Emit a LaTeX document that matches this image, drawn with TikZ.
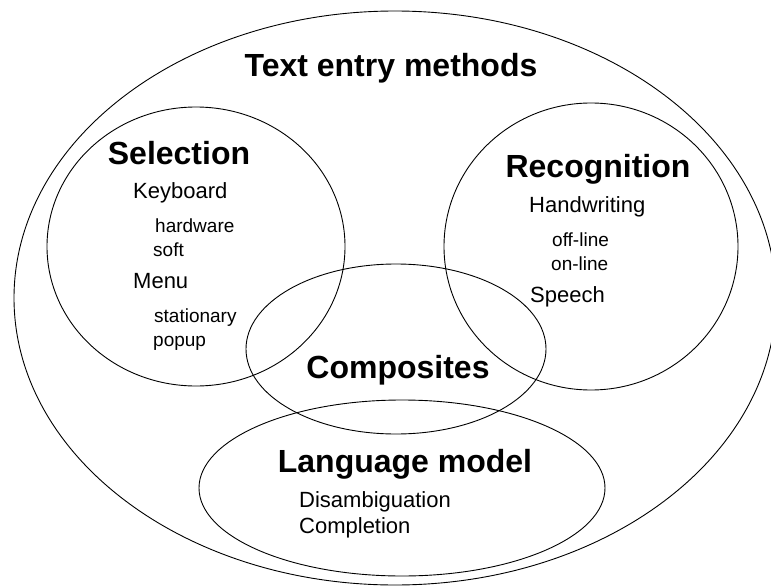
\documentclass[tikz,border=0pt]{standalone}
\usepackage{fontspec}
\setmainfont{Liberation Sans}
\usetikzlibrary{shapes.geometric}
\tikzset{
  set/.style={draw=black, line width=0.9pt, ellipse, inner sep=0pt},
  head/.style={anchor=base, inner sep=0pt, font=\bfseries\fontsize{32}{38}\selectfont},
  item/.style={anchor=base west, inner sep=0pt, font=\fontsize{22}{26}\selectfont},
  sub/.style={anchor=base west, inner sep=0pt, font=\fontsize{19}{23}\selectfont}
}
\begin{document}
\begin{tikzpicture}[x=1pt,y=-1pt]
\useasboundingbox (0,0) rectangle (771,586);
\clip (0,0) rectangle (771,586);
\fill[white] (0,0) rectangle (771,586);
% sets
\node[set, minimum width=762pt, minimum height=574pt] (outer) at (395,298) {};
\node[set, minimum width=298pt, minimum height=279pt] (sel) at (196,246.5) {};
\node[set, minimum width=294pt, minimum height=287pt] (rec) at (591,246.5) {};
\node[set, minimum width=300pt, minimum height=170pt] (comp) at (396,349) {};
\node[set, minimum width=406pt, minimum height=176pt] (lm) at (402,488) {};
% titles
\node[head] (tTitle) at (391,77) {Text entry methods};
\node[head] (tSel) at (179,164) {Selection};
\node[head] (tRec) at (598,177) {Recognition};
\node[head] (tComp) at (398,378) {Composites};
\node[head] (tLM) at (405,472) {Language model};
% selection items
\node[item] (kb) at (133,198) {Keyboard};
\node[sub] (hw) at (155,232) {hardware};
\node[sub] (soft) at (153,256) {soft};
\node[item] (menu) at (133,288) {Menu};
\node[sub] (stat) at (154,322) {stationary};
\node[sub] (pop) at (153,346) {popup};
% recognition items
\node[item] (hand) at (529,212) {Handwriting};
\node[sub] (off) at (552,246) {off-line};
\node[sub] (on) at (551,270) {on-line};
\node[item] (speech) at (530,302) {Speech};
% language model items
\node[item] (dis) at (299,507) {Disambiguation};
\node[item] (compl) at (299,533) {Completion};
\end{tikzpicture}
\end{document}
